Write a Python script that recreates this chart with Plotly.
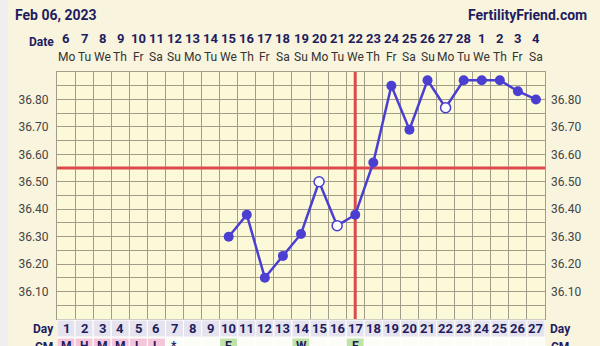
import plotly.graph_objects as go

# ---- data ----
cycle_days = list(range(1, 28))
date_labels = ["6", "7", "8", "9", "10", "11", "12", "13", "14", "15", "16", "17", "18", "19",
               "20", "21", "22", "23", "24", "25", "26", "27", "28", "1", "2", "3", "4"]
weekday_labels = ["Mo", "Tu", "We", "Th", "Fr", "Sa", "Su"] * 3 + ["Mo", "Tu", "We", "Th", "Fr", "Sa"]
temp_days = [10, 11, 12, 13, 14, 15, 16, 17, 18, 19, 20, 21, 22, 23, 24, 25, 26, 27]
temps = [36.30, 36.38, 36.15, 36.23, 36.31, 36.50, 36.34, 36.38, 36.57, 36.85,
         36.69, 36.87, 36.77, 36.87, 36.87, 36.87, 36.83, 36.80]
open_days = [15, 16, 22]  # hollow markers
cm_labels = ["M", "H", "M", "M", "L", "L", "*", "", "", "E", "", "", "", "W", "", "", "E",
             "", "", "", "", "", "", "", "", "", ""]
cm_kind = ["pink"] * 6 + ["plain"] * 3 + ["green"] + ["plain"] * 3 + ["green"] + ["plain"] * 2 + ["green"] + ["plain"] * 10
coverline = 36.55
ovulation_day = 17
y_min, y_max = 36.0, 36.9
y_ticks = [round(36.0 + 0.05 * i, 2) for i in range(19)]
title_left = "Feb 06, 2023"
title_right = "FertilityFriend.com"

# ---- styling ----
NAVY = "#1f1d5e"
GRID = "#a19d88"
RED = "#dc4a4c"
LINE = "#4b3fd1"
PAGE_BG = "#f8f4de"
PLOT_BG = "#fcf9d9"

H = 346
T, B = 72, 27
PW = 488
plot_h = H - T - B


def py(pix):
    return (H - B - pix) / plot_h


def px(pix):
    return (pix - 57) / PW


tick_text = [f"{v:.2f}" if (abs(v * 10 - round(v * 10)) < 1e-6 and 36.05 < v < 36.85) else "" for v in y_ticks]

fig = go.Figure()

solid_x = [d for d in temp_days if d not in open_days]
solid_y = [t for d, t in zip(temp_days, temps) if d not in open_days]
open_x = [d for d in temp_days if d in open_days]
open_y = [t for d, t in zip(temp_days, temps) if d in open_days]

# coverline and ovulation line as traces (above grid, below temperature line)
fig.add_trace(go.Scatter(x=[cycle_days[0] - 0.5, cycle_days[-1] + 0.5], y=[coverline, coverline],
                         mode="lines", line=dict(color=RED, width=3), hoverinfo="skip",
                         showlegend=False, cliponaxis=True))
fig.add_trace(go.Scatter(x=[ovulation_day, ovulation_day], y=[y_min, y_max],
                         mode="lines", line=dict(color=RED, width=3), hoverinfo="skip",
                         showlegend=False, cliponaxis=True))
fig.add_trace(go.Scatter(x=temp_days, y=temps, mode="lines",
                         line=dict(color=LINE, width=2.5), hoverinfo="skip", showlegend=False))
fig.add_trace(go.Scatter(x=solid_x, y=solid_y, mode="markers",
                         marker=dict(color=LINE, size=10, line=dict(width=0)), showlegend=False))
fig.add_trace(go.Scatter(x=open_x, y=open_y, mode="markers",
                         marker=dict(color="white", size=10, line=dict(color=LINE, width=1.5)),
                         showlegend=False))
fig.add_trace(go.Scatter(x=[None], y=[None], yaxis="y2", showlegend=False))

shapes = []
annotations = []
day_top, day_bot = py(320), py(337)
cm_top, cm_bot = py(338), py(362)
colors = {"pink": "#f5c6d9", "green": "#bfe3a9", "plain": "#fdfdf7"}


def ann(x, y, text, xref="x", xanchor="center", **font):
    return dict(x=x, y=y, xref=xref, yref="paper", text=text, showarrow=False,
                xanchor=xanchor, yanchor="middle", font=font)


for i, d in enumerate(cycle_days):
    shapes.append(dict(type="rect", xref="x", yref="paper", x0=d - 0.5, x1=d + 0.5, y0=day_bot, y1=day_top,
                       fillcolor="#e5e3ee", line=dict(color="white", width=1)))
    shapes.append(dict(type="rect", xref="x", yref="paper", x0=d - 0.5, x1=d + 0.5, y0=cm_bot, y1=cm_top,
                       fillcolor=colors[cm_kind[i]], line=dict(color="white", width=1)))
    annotations.append(ann(d, py(328.5), str(d), family="Roboto", size=13, color=NAVY, weight="bold"))
    if cm_labels[i]:
        annotations.append(ann(d, py(346), cm_labels[i], family="Roboto", size=12, color=NAVY, weight="bold"))
    annotations.append(ann(d, py(39), date_labels[i], family="Roboto", size=13, color=NAVY, weight="bold"))
    annotations.append(ann(d, py(57), weekday_labels[i], family="Roboto", size=12, color="#333333"))

bold = dict(family="Roboto", color=NAVY, weight="bold")
annotations += [
    ann(px(41), py(42), "Date", xref="paper", size=12, **bold),
    ann(px(13), py(15), title_left, xref="paper", xanchor="left", size=14, **bold),
    ann(px(589), py(15), title_right, xref="paper", xanchor="right", size=14, **bold),
    ann(px(43), py(328.5), "Day", xref="paper", size=12, **bold),
    ann(px(560), py(328.5), "Day", xref="paper", size=12, **bold),
    ann(px(44), py(347), "CM", xref="paper", size=12, **bold),
    ann(px(560), py(347), "CM", xref="paper", size=12, **bold),
]

shapes.append(dict(type="rect", xref="paper", yref="paper", x0=px(0), x1=px(8), y0=py(400), y1=py(-10),
                   fillcolor="#efefef", line=dict(width=0), layer="below"))

fig.update_layout(
    width=600, height=H, autosize=False,
    margin=dict(l=57, r=55, t=T, b=B, pad=0, autoexpand=False),
    paper_bgcolor=PAGE_BG, plot_bgcolor=PLOT_BG,
    showlegend=False,
    shapes=shapes, annotations=annotations,
    xaxis=dict(range=[0.5, 27.5], tick0=0.5, dtick=1, showticklabels=False, showgrid=True,
               gridcolor=GRID, gridwidth=1, zeroline=False, showline=True, mirror=True,
               linecolor=GRID, linewidth=1, ticks="", automargin=False),
    yaxis=dict(range=[y_min, y_max], tickvals=y_ticks, ticktext=tick_text, showgrid=True,
               gridcolor=GRID, gridwidth=1, zeroline=False, showline=True, mirror=True,
               linecolor=GRID, linewidth=1, ticks="", ticklabelstandoff=5, automargin=False,
               tickfont=dict(family="Roboto", size=12, color="#444444")),
    yaxis2=dict(range=[y_min, y_max], tickvals=y_ticks, ticktext=tick_text, overlaying="y", side="right",
                showgrid=False, zeroline=False, ticks="", ticklabelstandoff=5, automargin=False,
                tickfont=dict(family="Roboto", size=12, color="#444444")),
)

fig.write_html("out.html")
